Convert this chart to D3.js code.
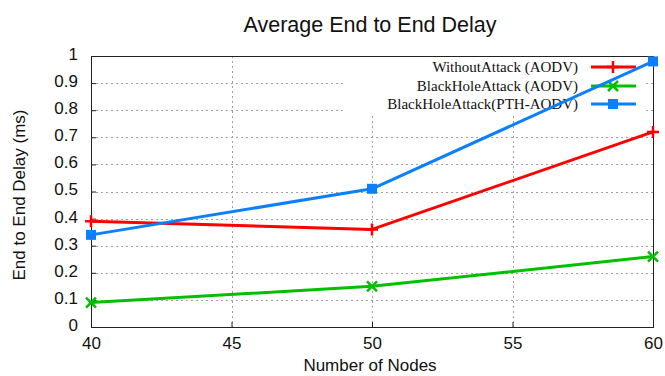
<!DOCTYPE html>
<html>
<head>
<meta charset="utf-8">
<script src="https://cdn.jsdelivr.net/npm/d3@7"></script>
<style>
  html, body { margin: 0; padding: 0; background: #fff; }
  svg { display: block; }
</style>
</head>
<body>
<svg id="chart" width="665" height="376"></svg>
<script>
// Number of nodes on the x axis
const nodes = [40, 50, 60];
// Average end-to-end delay (ms) for each scenario
const withoutAttack = [0.39, 0.36, 0.72];
const blackHole = [0.09, 0.15, 0.26];
const blackHolePTH = [0.34, 0.51, 0.98];
const seriesNames = ["WithoutAttack (AODV)", "BlackHoleAttack (AODV)", "BlackHoleAttack(PTH-AODV)"];
const xTicks = [40, 45, 50, 55, 60];
const yTicks = [0, 0.1, 0.2, 0.3, 0.4, 0.5, 0.6, 0.7, 0.8, 0.9, 1];

const series = [
  { name: seriesNames[0], values: withoutAttack, color: "#ff0000", marker: "plus" },
  { name: seriesNames[1], values: blackHole, color: "#00c000", marker: "cross" },
  { name: seriesNames[2], values: blackHolePTH, color: "#0a80ff", marker: "square" }
];

const svg = d3.select("#chart");
const plotLeft = 91, plotRight = 653, plotTop = 56, plotBottom = 327;

const x = d3.scaleLinear().domain([40, 60]).range([plotLeft, plotRight]);
const y = d3.scaleLinear().domain([0, 1]).range([plotBottom, plotTop]);

// Title
svg.append("text")
  .attr("x", 370).attr("y", 32)
  .attr("text-anchor", "middle")
  .attr("font-family", "Liberation Sans, Arial, sans-serif")
  .attr("font-size", 21.5)
  .attr("fill", "#111")
  .text("Average End to End Delay");

// Grid lines
const grid = svg.append("g").attr("stroke", "#a0a0a0").attr("stroke-width", 1)
  .attr("stroke-dasharray", "2,3").attr("fill", "none");
xTicks.filter(v => v > 40 && v < 60).forEach(v => {
  grid.append("line").attr("x1", Math.round(x(v)) + 0.5).attr("x2", Math.round(x(v)) + 0.5)
    .attr("y1", plotTop).attr("y2", plotBottom);
});
yTicks.filter(v => v > 0 && v < 1).forEach(v => {
  grid.append("line").attr("x1", plotLeft).attr("x2", plotRight)
    .attr("y1", Math.round(y(v)) + 0.5).attr("y2", Math.round(y(v)) + 0.5);
});

// Axes
const xAxis = d3.axisBottom(x).tickValues(xTicks).tickSize(-5).tickPadding(10).tickFormat(d3.format("d"));
const yAxis = d3.axisLeft(y).tickValues(yTicks).tickSize(-5).tickPadding(13)
  .tickFormat(d => d === 0 || d === 1 ? String(d) : d3.format(".1f")(d));

const gx = svg.append("g").attr("transform", `translate(0,${plotBottom})`).call(xAxis);
const gy = svg.append("g").attr("transform", `translate(${plotLeft},0)`).call(yAxis);
[gx, gy].forEach(g => {
  g.select(".domain").remove();
  g.selectAll(".tick line").attr("stroke", "#222");
  g.selectAll("text").attr("font-family", "Liberation Sans, Arial, sans-serif")
    .attr("font-size", 17).attr("fill", "#111");
});
gy.selectAll(".tick text").attr("dy", "0.2em");

// Legend background
const legend = svg.append("g");
legend.append("rect").attr("x", 344).attr("y", plotTop + 1).attr("width", 302).attr("height", 56)
  .attr("fill", "#fff");

// Frame
svg.append("rect").attr("x", plotLeft + 0.5).attr("y", plotTop + 0.5)
  .attr("width", plotRight - plotLeft).attr("height", plotBottom - plotTop)
  .attr("fill", "none").attr("stroke", "#222").attr("stroke-width", 1);

function drawMarker(g, cx, cy, type, color) {
  if (type === "plus") {
    g.append("path").attr("d", `M${cx - 6},${cy}H${cx + 6}M${cx},${cy - 6}V${cy + 6}`)
      .attr("stroke", color).attr("stroke-width", 2.5).attr("fill", "none");
  } else if (type === "cross") {
    g.append("path").attr("d", `M${cx - 5},${cy - 5}L${cx + 5},${cy + 5}M${cx - 5},${cy + 5}L${cx + 5},${cy - 5}`)
      .attr("stroke", color).attr("stroke-width", 2.5).attr("fill", "none");
  } else {
    g.append("rect").attr("x", cx - 5).attr("y", cy - 5).attr("width", 10).attr("height", 10)
      .attr("fill", color);
  }
}

// Legend entries
const legendRows = [67, 86, 104];
series.forEach((s, i) => {
  const ly = legendRows[i];
  legend.append("text").attr("x", 578).attr("y", ly + 5)
    .attr("text-anchor", "end")
    .attr("font-family", "Liberation Serif, Times New Roman, serif")
    .attr("font-size", 15).attr("fill", "#111")
    .text(s.name);
  legend.append("line").attr("x1", 591).attr("x2", 636).attr("y1", ly).attr("y2", ly)
    .attr("stroke", s.color).attr("stroke-width", 3);
  drawMarker(legend, 613, ly, s.marker, s.color);
});

// Data lines and markers
const line = d3.line().x((d, i) => x(nodes[i])).y(d => y(d));
series.forEach(s => {
  const g = svg.append("g");
  g.append("path").datum(s.values).attr("d", line)
    .attr("fill", "none").attr("stroke", s.color).attr("stroke-width", 3)
    .attr("stroke-linejoin", "round");
  s.values.forEach((v, i) => drawMarker(g, x(nodes[i]), y(v), s.marker, s.color));
});

// Axis titles
svg.append("text")
  .attr("x", 370).attr("y", 371)
  .attr("text-anchor", "middle")
  .attr("font-family", "Liberation Sans, Arial, sans-serif")
  .attr("font-size", 17).attr("fill", "#111")
  .text("Number of Nodes");

svg.append("text")
  .attr("transform", "translate(25,195) rotate(-90)")
  .attr("text-anchor", "middle")
  .attr("font-family", "Liberation Sans, Arial, sans-serif")
  .attr("font-size", 17).attr("fill", "#111")
  .text("End to End Delay (ms)");
</script>
</body>
</html>
